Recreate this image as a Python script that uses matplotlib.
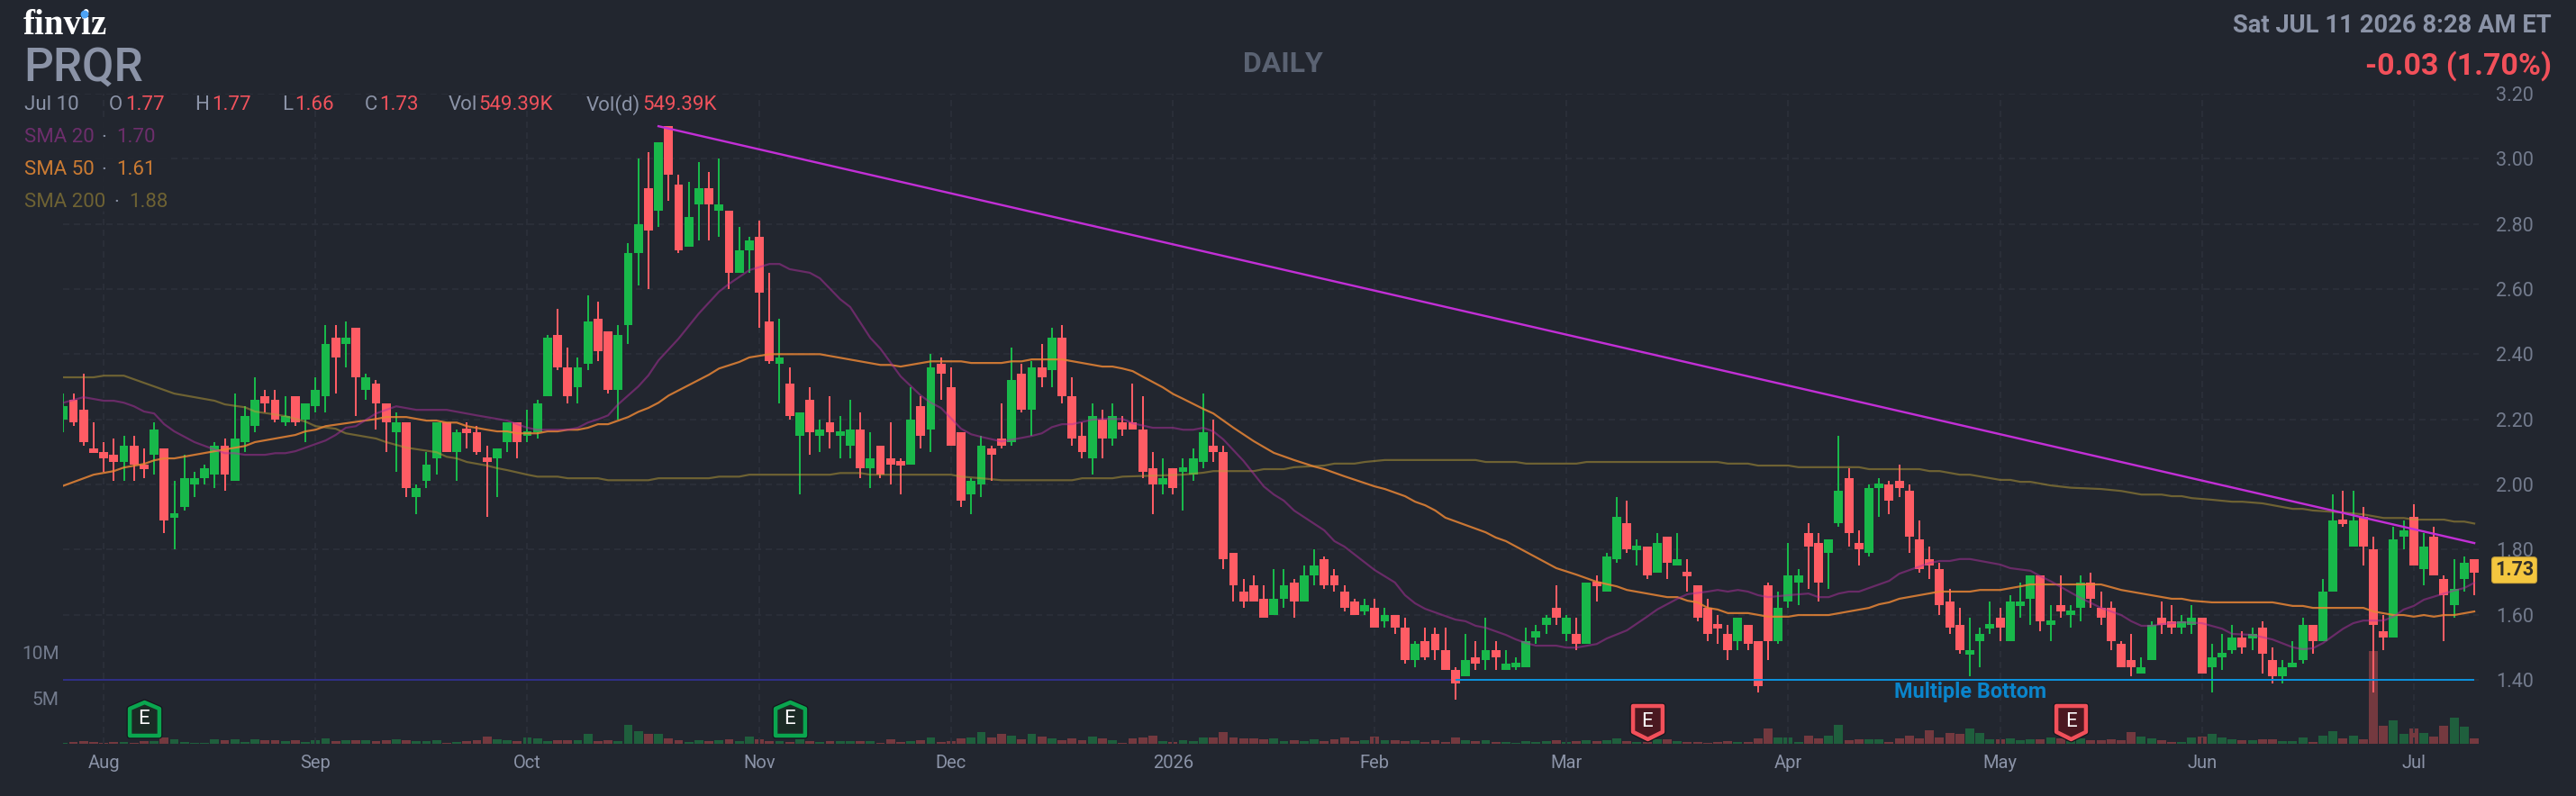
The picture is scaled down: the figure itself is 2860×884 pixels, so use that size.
import matplotlib
matplotlib.use("Agg")
import matplotlib.pyplot as plt
from matplotlib.path import Path
from matplotlib.patches import Ellipse, Rectangle

W, H = 2860, 884
DPI = 100
plt.rcParams["font.family"] = ["Roboto", "DejaVu Sans"]

open_ = [
    2.20, 2.26, 2.23, 2.11, 2.10, 2.09, 2.07, 2.12, 2.06, 2.09,
    2.11, 1.90, 1.93, 2.00, 2.02, 2.03, 2.12, 2.01, 2.13, 2.18,
    2.27, 2.26, 2.19, 2.27, 2.20, 2.24, 2.27, 2.45, 2.43, 2.48,
    2.29, 2.31, 2.25, 2.16, 2.19, 1.96, 2.01, 2.08, 2.19, 2.10,
    2.17, 2.16, 2.08, 2.08, 2.13, 2.19, 2.15, 2.16, 2.27, 2.46,
    2.36, 2.30, 2.37, 2.51, 2.47, 2.29, 2.49, 2.71, 2.91, 2.84,
    3.10, 2.92, 2.73, 2.86, 2.91, 2.84, 2.84, 2.65, 2.72, 2.76,
    2.50, 2.37, 2.31, 2.15, 2.26, 2.15, 2.19, 2.15, 2.12, 2.17,
    2.05, 2.12, 2.08, 2.07, 2.06, 2.24, 2.17, 2.37, 2.30, 2.16,
    1.97, 2.00, 2.11, 2.14, 2.13, 2.34, 2.23, 2.36, 2.35, 2.45,
    2.27, 2.15, 2.08, 2.20, 2.14, 2.19, 2.19, 2.17, 2.05, 2.00,
    2.05, 2.04, 2.03, 2.07, 2.12, 2.10, 1.79, 1.67, 1.69, 1.65,
    1.60, 1.65, 1.70, 1.64, 1.72, 1.77, 1.72, 1.67, 1.64, 1.61,
    1.62, 1.58, 1.60, 1.56, 1.46, 1.52, 1.54, 1.49, 1.43, 1.41,
    1.47, 1.46, 1.49, 1.43, 1.44, 1.44, 1.53, 1.57, 1.62, 1.54,
    1.54, 1.51, 1.70, 1.67, 1.77, 1.88, 1.80, 1.81, 1.73, 1.84,
    1.75, 1.73, 1.69, 1.62, 1.57, 1.54, 1.52, 1.57, 1.52, 1.69,
    1.52, 1.64, 1.70, 1.85, 1.82, 1.79, 1.88, 2.02, 1.82, 1.79,
    1.99, 2.00, 2.01, 1.98, 1.83, 1.77, 1.74, 1.64, 1.57, 1.48,
    1.52, 1.56, 1.59, 1.52, 1.63, 1.65, 1.72, 1.57, 1.63, 1.60,
    1.62, 1.70, 1.62, 1.62, 1.51, 1.46, 1.42, 1.46, 1.59, 1.58,
    1.56, 1.57, 1.59, 1.44, 1.47, 1.49, 1.53, 1.53, 1.56, 1.46,
    1.41, 1.44, 1.46, 1.57, 1.52, 1.67, 1.89, 1.81, 1.90, 1.80,
    1.55, 1.53, 1.84, 1.90, 1.74, 1.84, 1.71, 1.63, 1.71, 1.77,
]
high = [
    2.28, 2.28, 2.34, 2.19, 2.13, 2.14, 2.15, 2.15, 2.11, 2.19,
    2.11, 2.01, 2.09, 2.04, 2.06, 2.13, 2.14, 2.28, 2.24, 2.33,
    2.29, 2.29, 2.27, 2.27, 2.25, 2.33, 2.49, 2.49, 2.50, 2.48,
    2.34, 2.32, 2.25, 2.22, 2.19, 2.00, 2.10, 2.19, 2.19, 2.17,
    2.19, 2.18, 2.12, 2.11, 2.19, 2.19, 2.23, 2.26, 2.46, 2.54,
    2.42, 2.39, 2.58, 2.56, 2.47, 2.49, 2.74, 3.00, 3.02, 3.05,
    3.10, 2.95, 2.93, 2.99, 2.96, 3.00, 2.84, 2.79, 2.76, 2.81,
    2.65, 2.51, 2.36, 2.22, 2.30, 2.20, 2.27, 2.21, 2.26, 2.22,
    2.16, 2.12, 2.19, 2.08, 2.30, 2.27, 2.40, 2.39, 2.36, 2.16,
    2.02, 2.15, 2.12, 2.25, 2.42, 2.37, 2.38, 2.43, 2.48, 2.49,
    2.33, 2.19, 2.25, 2.23, 2.25, 2.21, 2.31, 2.27, 2.10, 2.08,
    2.05, 2.08, 2.11, 2.28, 2.20, 2.12, 1.79, 1.71, 1.72, 1.69,
    1.74, 1.74, 1.71, 1.75, 1.80, 1.78, 1.74, 1.69, 1.65, 1.65,
    1.65, 1.62, 1.60, 1.59, 1.52, 1.56, 1.56, 1.56, 1.44, 1.54,
    1.52, 1.59, 1.52, 1.49, 1.47, 1.56, 1.57, 1.60, 1.69, 1.60,
    1.59, 1.70, 1.72, 1.79, 1.96, 1.95, 1.83, 1.81, 1.85, 1.84,
    1.85, 1.77, 1.69, 1.65, 1.60, 1.57, 1.59, 1.57, 1.52, 1.70,
    1.67, 1.82, 1.74, 1.88, 1.85, 1.83, 2.15, 2.05, 1.86, 2.00,
    2.02, 2.01, 2.06, 2.00, 1.89, 1.81, 1.76, 1.68, 1.62, 1.59,
    1.56, 1.64, 1.62, 1.66, 1.70, 1.72, 1.72, 1.63, 1.72, 1.63,
    1.72, 1.73, 1.67, 1.64, 1.52, 1.54, 1.47, 1.58, 1.64, 1.63,
    1.60, 1.63, 1.59, 1.51, 1.54, 1.57, 1.55, 1.56, 1.58, 1.50,
    1.46, 1.52, 1.59, 1.57, 1.71, 1.97, 1.98, 1.98, 1.93, 1.84,
    1.60, 1.87, 1.89, 1.94, 1.85, 1.87, 1.72, 1.77, 1.78, 1.77,
]
low = [
    2.16, 2.18, 2.12, 2.10, 2.04, 2.01, 2.01, 2.01, 2.02, 2.03,
    1.85, 1.80, 1.92, 1.96, 2.00, 1.99, 1.98, 2.01, 2.10, 2.16,
    2.22, 2.19, 2.18, 2.18, 2.13, 2.22, 2.22, 2.28, 2.36, 2.21,
    2.26, 2.17, 2.10, 2.04, 1.96, 1.91, 1.99, 2.03, 2.10, 2.01,
    2.11, 2.09, 1.90, 1.96, 2.10, 2.08, 2.13, 2.14, 2.27, 2.35,
    2.25, 2.25, 2.35, 2.38, 2.28, 2.20, 2.43, 2.61, 2.60, 2.79,
    2.87, 2.71, 2.73, 2.75, 2.75, 2.76, 2.60, 2.65, 2.65, 2.48,
    2.37, 2.25, 2.20, 1.97, 2.09, 2.10, 2.11, 2.08, 2.08, 2.02,
    1.99, 2.02, 2.00, 1.97, 2.06, 2.11, 2.10, 2.26, 2.12, 1.93,
    1.91, 1.96, 2.01, 2.11, 2.12, 2.22, 2.15, 2.30, 2.30, 2.25,
    2.12, 2.08, 2.03, 2.08, 2.12, 2.15, 2.17, 2.02, 1.91, 1.97,
    1.97, 1.92, 2.01, 2.05, 2.07, 1.74, 1.64, 1.62, 1.64, 1.59,
    1.60, 1.62, 1.59, 1.64, 1.69, 1.68, 1.67, 1.61, 1.60, 1.60,
    1.56, 1.56, 1.54, 1.45, 1.44, 1.46, 1.46, 1.43, 1.34, 1.41,
    1.43, 1.43, 1.43, 1.43, 1.43, 1.44, 1.51, 1.54, 1.57, 1.52,
    1.49, 1.51, 1.64, 1.67, 1.76, 1.79, 1.75, 1.71, 1.73, 1.71,
    1.75, 1.67, 1.58, 1.52, 1.51, 1.46, 1.49, 1.49, 1.36, 1.46,
    1.51, 1.62, 1.63, 1.68, 1.64, 1.68, 1.87, 1.81, 1.75, 1.78,
    1.90, 1.91, 1.96, 1.79, 1.73, 1.71, 1.60, 1.54, 1.48, 1.41,
    1.44, 1.54, 1.52, 1.52, 1.59, 1.57, 1.55, 1.52, 1.59, 1.56,
    1.58, 1.62, 1.57, 1.49, 1.44, 1.41, 1.42, 1.46, 1.54, 1.54,
    1.54, 1.54, 1.42, 1.36, 1.43, 1.48, 1.48, 1.49, 1.42, 1.39,
    1.39, 1.44, 1.45, 1.48, 1.52, 1.67, 1.87, 1.81, 1.75, 1.36,
    1.49, 1.53, 1.80, 1.75, 1.69, 1.72, 1.52, 1.59, 1.67, 1.66,
]
close = [
    2.24, 2.19, 2.13, 2.10, 2.08, 2.07, 2.12, 2.06, 2.05, 2.17,
    1.89, 1.91, 2.02, 2.02, 2.05, 2.12, 2.03, 2.14, 2.21, 2.26,
    2.25, 2.20, 2.21, 2.19, 2.25, 2.29, 2.43, 2.39, 2.45, 2.33,
    2.33, 2.25, 2.19, 2.19, 1.99, 1.99, 2.06, 2.19, 2.10, 2.16,
    2.16, 2.10, 2.07, 2.11, 2.19, 2.13, 2.16, 2.25, 2.45, 2.36,
    2.27, 2.36, 2.50, 2.41, 2.29, 2.46, 2.71, 2.80, 2.78, 3.05,
    2.95, 2.72, 2.82, 2.91, 2.86, 2.86, 2.65, 2.72, 2.75, 2.59,
    2.38, 2.39, 2.21, 2.22, 2.16, 2.17, 2.16, 2.16, 2.17, 2.05,
    2.08, 2.03, 2.06, 2.06, 2.20, 2.15, 2.36, 2.34, 2.12, 1.95,
    2.01, 2.12, 2.09, 2.12, 2.32, 2.23, 2.36, 2.33, 2.45, 2.27,
    2.14, 2.10, 2.21, 2.14, 2.21, 2.17, 2.17, 2.04, 2.00, 2.02,
    1.99, 2.05, 2.08, 2.16, 2.10, 1.77, 1.69, 1.64, 1.64, 1.59,
    1.65, 1.69, 1.64, 1.72, 1.75, 1.69, 1.69, 1.62, 1.60, 1.63,
    1.56, 1.60, 1.56, 1.46, 1.51, 1.47, 1.49, 1.43, 1.39, 1.46,
    1.45, 1.49, 1.47, 1.45, 1.45, 1.52, 1.55, 1.59, 1.59, 1.59,
    1.51, 1.70, 1.69, 1.78, 1.90, 1.80, 1.81, 1.72, 1.82, 1.76,
    1.77, 1.72, 1.59, 1.54, 1.56, 1.49, 1.59, 1.51, 1.38, 1.52,
    1.62, 1.72, 1.72, 1.81, 1.70, 1.83, 1.98, 1.85, 1.80, 1.99,
    2.00, 1.95, 1.99, 1.84, 1.74, 1.75, 1.63, 1.56, 1.49, 1.49,
    1.54, 1.57, 1.56, 1.64, 1.64, 1.72, 1.58, 1.58, 1.61, 1.61,
    1.70, 1.65, 1.59, 1.52, 1.44, 1.44, 1.44, 1.57, 1.57, 1.56,
    1.58, 1.59, 1.42, 1.47, 1.48, 1.53, 1.50, 1.54, 1.48, 1.41,
    1.44, 1.45, 1.57, 1.52, 1.67, 1.89, 1.88, 1.89, 1.81, 1.57,
    1.53, 1.83, 1.86, 1.75, 1.81, 1.72, 1.66, 1.68, 1.76, 1.73,
]
volume_m = [
    0.13, 0.17, 0.26, 0.17, 0.07, 0.17, 0.17, 0.07, 0.26, 0.26,
    0.66, 0.46, 0.17, 0.07, 0.07, 0.46, 0.36, 0.46, 0.17, 0.46,
    0.36, 0.36, 0.26, 0.36, 0.17, 0.36, 0.56, 0.26, 0.36, 0.36,
    0.36, 0.26, 0.36, 0.46, 0.36, 0.26, 0.26, 0.36, 0.07, 0.17,
    0.26, 0.36, 0.76, 0.46, 0.36, 0.26, 0.66, 0.56, 0.26, 0.36,
    0.36, 0.36, 1.06, 0.26, 0.36, 0.26, 2.08, 1.39, 1.09, 1.09,
    0.59, 0.40, 0.20, 0.40, 0.30, 0.40, 0.50, 0.30, 0.79, 0.50,
    0.30, 0.30, 0.20, 0.50, 0.30, 0.20, 0.30, 0.30, 0.30, 0.30,
    0.30, 0.10, 0.50, 0.20, 0.30, 0.40, 0.69, 0.20, 0.30, 0.59,
    0.69, 1.29, 0.69, 1.09, 0.89, 0.50, 1.09, 0.79, 0.59, 0.40,
    0.59, 0.40, 0.79, 0.59, 0.40, 0.10, 0.59, 0.69, 0.89, 0.30,
    0.20, 0.40, 0.30, 0.69, 0.69, 1.29, 0.69, 0.59, 0.59, 0.50,
    0.59, 0.30, 0.40, 0.30, 0.50, 0.30, 0.50, 0.69, 0.30, 0.40,
    0.79, 0.40, 0.40, 0.30, 0.40, 0.20, 0.40, 0.20, 0.69, 0.40,
    0.30, 0.40, 0.20, 0.20, 0.10, 0.26, 0.16, 0.26, 0.36, 0.16,
    0.26, 0.36, 0.26, 0.36, 0.56, 0.26, 0.16, 0.16, 0.46, 0.46,
    0.26, 0.16, 0.16, 0.07, 0.16, 0.26, 0.16, 0.16, 0.56, 1.65,
    0.66, 0.66, 0.16, 0.86, 0.56, 0.86, 2.05, 0.36, 0.46, 0.46,
    0.46, 0.16, 0.56, 0.86, 0.56, 1.45, 0.66, 1.16, 1.06, 1.65,
    1.16, 0.46, 0.46, 0.56, 0.36, 0.46, 0.46, 0.66, 0.56, 0.26,
    0.56, 0.36, 0.36, 0.46, 0.36, 1.25, 0.76, 0.56, 0.36, 0.17,
    0.17, 0.66, 0.76, 1.06, 0.66, 0.46, 0.36, 0.36, 0.46, 0.46,
    0.26, 0.26, 0.66, 0.17, 0.86, 1.35, 0.56, 0.86, 0.46, 10.16,
    1.95, 2.54, 1.06, 1.65, 1.16, 0.76, 1.95, 2.84, 1.85, 0.54939,
]

sma20_idx = [
    0, 2, 4, 5, 6, 7, 8, 9, 10, 11, 13, 15, 16, 17, 18, 20, 21, 22, 23, 25, 26, 27, 28, 29, 31,
    33, 35, 38, 41, 44, 46, 47, 50, 51, 52, 53, 54, 55, 57, 58, 59, 61, 63, 65, 66, 68, 70, 71,
    72, 74, 75, 77, 78, 80, 81, 83, 85, 86, 87, 89, 90, 91, 93, 95, 96, 97, 98, 99, 100, 102, 103,
    105, 106, 108, 110, 111, 112, 113, 114, 115, 117, 119, 120, 121, 122, 125, 126, 127, 130, 132,
    133, 134, 135, 138, 139, 140, 141, 143, 144, 145, 146, 148, 149, 150, 152, 153, 155, 157, 158,
    160, 161, 163, 164, 165, 166, 167, 168, 169, 171, 173, 174, 175, 176, 177, 178, 180, 181, 182,
    184, 185, 186, 187, 188, 189, 192, 193, 195, 196, 197, 199, 200, 202, 204, 205, 206, 207, 208,
    210, 212, 214, 215, 217, 219, 221, 222, 223, 224, 225, 226, 227, 228, 230, 231, 232, 233, 234,
    236, 237, 238, 239,
]
sma20_val = [
    2.251, 2.268, 2.257, 2.257, 2.251, 2.24, 2.224, 2.218, 2.185, 2.163, 2.13, 2.107, 2.096, 2.096,
    2.091, 2.091, 2.096, 2.096, 2.102, 2.124, 2.135, 2.152, 2.174, 2.179, 2.218, 2.24, 2.229, 2.229,
    2.212, 2.196, 2.174, 2.168, 2.168, 2.174, 2.19, 2.2, 2.212, 2.246, 2.301, 2.335, 2.381, 2.448,
    2.525, 2.592, 2.616, 2.658, 2.677, 2.677, 2.661, 2.65, 2.633, 2.569, 2.545, 2.45, 2.417, 2.332,
    2.273, 2.251, 2.235, 2.171, 2.154, 2.146, 2.132, 2.143, 2.149, 2.157, 2.176, 2.185, 2.185, 2.199,
    2.201, 2.201, 2.188, 2.174, 2.174, 2.168, 2.168, 2.174, 2.163, 2.138, 2.072, 1.994, 1.969, 1.95,
    1.92, 1.859, 1.826, 1.809, 1.737, 1.699, 1.66, 1.635, 1.618, 1.585, 1.58, 1.566, 1.56, 1.538,
    1.524, 1.513, 1.505, 1.505, 1.499, 1.499, 1.51, 1.527, 1.552, 1.594, 1.616, 1.649, 1.663, 1.671,
    1.676, 1.671, 1.676, 1.671, 1.66, 1.654, 1.66, 1.665, 1.654, 1.654, 1.665, 1.671, 1.671, 1.693,
    1.704, 1.726, 1.748, 1.759, 1.765, 1.765, 1.771, 1.771, 1.754, 1.743, 1.735, 1.718, 1.703, 1.668,
    1.651, 1.621, 1.599, 1.58, 1.566, 1.566, 1.571, 1.577, 1.574, 1.557, 1.541, 1.538, 1.524, 1.5,
    1.494, 1.497, 1.513, 1.535, 1.557, 1.574, 1.582, 1.582, 1.594, 1.616, 1.627, 1.646, 1.665, 1.674,
    1.682, 1.698,
]
sma50_idx = [
    0, 3, 5, 6, 8, 9, 10, 11, 15, 18, 19, 23, 24, 25, 26, 31, 32, 34, 36, 37, 38, 39, 40, 42, 43, 44,
    45, 47, 48, 49, 50, 51, 52, 53, 54, 56, 57, 58, 59, 60, 64, 65, 67, 68, 70, 75, 81, 82, 83, 86,
    89, 90, 93, 94, 95, 96, 99, 103, 104, 105, 106, 107, 109, 110, 111, 113, 114, 116, 118, 120, 122,
    124, 125, 127, 130, 131, 133, 134, 135, 136, 137, 141, 142, 143, 148, 150, 152, 154, 155, 159,
    160, 161, 162, 163, 164, 165, 167, 169, 171, 172, 175, 179, 180, 181, 182, 186, 189, 190, 192,
    194, 195, 202, 204, 209, 210, 211, 213, 219, 221, 222, 223, 228, 229, 231, 232, 233, 234, 235,
    236, 237, 239,
]
sma50_val = [
    1.996, 2.03, 2.041, 2.052, 2.063, 2.074, 2.08, 2.08, 2.102, 2.118, 2.13, 2.152, 2.163, 2.168,
    2.179, 2.201, 2.207, 2.207, 2.196, 2.196, 2.19, 2.19, 2.179, 2.168, 2.163, 2.163, 2.157, 2.157,
    2.163, 2.163, 2.168, 2.168, 2.174, 2.185, 2.185, 2.207, 2.223, 2.235, 2.251, 2.273, 2.337, 2.356,
    2.376, 2.39, 2.40, 2.40, 2.367, 2.367, 2.362, 2.378, 2.378, 2.373, 2.373, 2.378, 2.378, 2.384,
    2.384, 2.362, 2.362, 2.356, 2.348, 2.331, 2.298, 2.278, 2.263, 2.232, 2.218, 2.174, 2.133, 2.097,
    2.075, 2.055, 2.047, 2.025, 1.994, 1.986, 1.964, 1.947, 1.936, 1.92, 1.898, 1.853, 1.837, 1.826,
    1.743, 1.723, 1.701, 1.687, 1.676, 1.654, 1.654, 1.643, 1.638, 1.621, 1.616, 1.605, 1.605, 1.594,
    1.594, 1.599, 1.599, 1.621, 1.632, 1.638, 1.649, 1.671, 1.671, 1.676, 1.676, 1.687, 1.693, 1.693,
    1.676, 1.649, 1.649, 1.643, 1.638, 1.638, 1.627, 1.627, 1.621, 1.621, 1.61, 1.599, 1.599, 1.594,
    1.599, 1.594, 1.599, 1.599, 1.61,
]
sma200_idx = [
    0, 3, 4, 6, 8, 11, 15, 16, 18, 19, 22, 24, 25, 27, 28, 31, 32, 34, 37, 38, 39, 40, 42, 43, 44,
    46, 47, 49, 50, 53, 54, 58, 59, 64, 65, 67, 68, 76, 77, 79, 80, 88, 89, 91, 93, 100, 101, 104,
    105, 111, 113, 114, 118, 119, 121, 122, 125, 126, 128, 129, 131, 140, 141, 144, 145, 150, 151,
    164, 165, 167, 168, 171, 172, 178, 179, 184, 185, 186, 188, 189, 192, 193, 194, 195, 197, 199,
    202, 204, 206, 208, 209, 210, 211, 213, 215, 216, 218, 221, 222, 223, 226, 228, 230, 232, 233,
    236, 237, 238, 239,
]
sma200_val = [
    2.329, 2.329, 2.334, 2.334, 2.312, 2.279, 2.257, 2.246, 2.237, 2.224, 2.21, 2.193, 2.179, 2.171,
    2.157, 2.141, 2.13, 2.113, 2.099, 2.085, 2.08, 2.069, 2.058, 2.05, 2.044, 2.03, 2.024, 2.024, 2.019,
    2.019, 2.013, 2.013, 2.019, 2.019, 2.024, 2.024, 2.03, 2.03, 2.035, 2.035, 2.03, 2.03, 2.024, 2.019,
    2.013, 2.013, 2.019, 2.019, 2.024, 2.03, 2.036, 2.041, 2.041, 2.047, 2.047, 2.053, 2.058, 2.064,
    2.064, 2.069, 2.075, 2.075, 2.069, 2.069, 2.064, 2.064, 2.069, 2.069, 2.064, 2.064, 2.058, 2.058,
    2.053, 2.053, 2.047, 2.047, 2.041, 2.041, 2.03, 2.03, 2.014, 2.014, 2.008, 2.008, 1.997, 1.99,
    1.986, 1.98, 1.969, 1.969, 1.964, 1.964, 1.958, 1.953, 1.947, 1.947, 1.942, 1.925, 1.925, 1.92,
    1.914, 1.908, 1.897, 1.897, 1.892, 1.892, 1.886, 1.886, 1.88,
]

month_idx = [4, 25, 46, 69, 88, 110, 130, 149, 171, 192, 212, 233]
month_labels = ["Aug", "Sep", "Oct", "Nov", "Dec", "2026", "Feb", "Mar", "Apr", "May", "Jun", "Jul"]
price_ticks = [1.40, 1.60, 1.80, 2.00, 2.20, 2.40, 2.60, 2.80, 3.00, 3.20]
volume_ticks = [5, 10]
volume_tick_labels = ["5M", "10M"]
trend_idx = [59, 239]
trend_val = [3.10, 1.82]
support_price = 1.40
support_split = 138
earnings_up = [8, 72]
earnings_down = [157, 199]

BG = "#22262F"
UP = "#18B84A"
DOWN = "#FF5C64"
UP_VOL = "#1F5F3D"
DOWN_VOL = "#74393F"
GRID = "#2A2E38"
LABEL = "#8B93A7"
AXIS_TEXT = "#737B8D"
VALUE_RED = "#F0525C"
C20 = "#B030A0"
C50 = "#E88535"
C200 = "#BA9E37"

LEFT, RIGHT, TOP, BOTTOM = 70, 2752, 104, 826
PX_PER_PRICE = 361.7
PX_PER_MILLION = 10.1
MIN_BODY = 5 / PX_PER_PRICE


def px(value):
    """Convert a length in output pixels to points."""
    return value * 72 / DPI


def put(x, y, text, size, color, ha="left", weight="normal", va="center", family=None):
    kwargs = {"family": family} if family else {}
    return fig.text(x / W, 1 - y / H, text, fontsize=size, color=color, ha=ha, va=va,
                    fontweight=weight, **kwargs)


fig = plt.figure(figsize=(W / DPI, H / DPI), dpi=DPI, facecolor=BG)
rect = [LEFT / W, 1 - BOTTOM / H, (RIGHT - LEFT) / W, (BOTTOM - TOP) / H]

# Volume panel shares the candle area and sits underneath it.
ax_vol = fig.add_axes(rect, facecolor=BG)
ax = fig.add_axes(rect, facecolor="none")

n = len(close)
idx = list(range(n))
xlim = (-0.027, 239.44)

is_up = [c >= o for o, c in zip(open_, close)]
ax_vol.bar(idx, volume_m, width=0.89, color=[UP_VOL if u else DOWN_VOL for u in is_up], linewidth=0)
ax_vol.set_xlim(*xlim)
ax_vol.set_ylim(0, (BOTTOM - TOP) / PX_PER_MILLION)
ax_vol.set_yticks(volume_ticks, volume_tick_labels)
ax_vol.set_xticks([])
ax_vol.tick_params(axis="y", length=0, pad=px(4.5), labelsize=15, labelcolor=AXIS_TEXT)

# Earnings shields: pentagons pointing up for beats and down for misses.
shield_up = Path([(-0.444, -0.5), (-0.444, 0.31), (0, 0.5), (0.444, 0.31), (0.444, -0.5), (-0.444, -0.5)], closed=True)
shield_down = Path([(-0.444, 0.5), (-0.444, -0.28), (0, -0.5), (0.444, -0.28), (0.444, 0.5), (-0.444, 0.5)], closed=True)
for positions, shape, edge, fill, level in [
    (earnings_up, shield_up, "#0AA64F", "#1B2B25", 2.75),
    (earnings_down, shield_down, "#F2505A", "#4A1820", 2.4),
]:
    ax_vol.plot(positions, [level] * len(positions), ls="none", marker=shape, ms=px(37),
                mfc=fill, mec="#14161C", mew=px(7), zorder=4, clip_on=False)
    ax_vol.plot(positions, [level] * len(positions), ls="none", marker=shape, ms=px(37),
                mfc=fill, mec=edge, mew=px(4.5), zorder=5, clip_on=False)
    for p in positions:
        ax_vol.text(p, level, "E", color="white", fontsize=16, ha="center", va="center", zorder=6)

# Price panel
ax.set_xlim(*xlim)
ax.set_ylim(1.4 - (BOTTOM - 755) / PX_PER_PRICE, 3.2)
ax.set_yticks(price_ticks, [f"{p:.2f}" for p in price_ticks])
ax.set_xticks(month_idx, month_labels)
ax.yaxis.tick_right()
ax.tick_params(axis="y", length=0, pad=px(19), labelsize=15.5, labelcolor=AXIS_TEXT)
ax.tick_params(axis="x", length=0, pad=px(12), labelsize=14.5, labelcolor=LABEL)
ax.grid(True, color=GRID, lw=px(2), ls=(0, (3.5, 2.5)), zorder=0)
ax.set_axisbelow(True)
for axis in (ax, ax_vol):
    for spine in axis.spines.values():
        spine.set_visible(False)

ax.plot([0, support_split], [support_price] * 2, color="#2F2F85", lw=px(2), zorder=1.5, solid_capstyle="butt")

colors = [UP if u else DOWN for u in is_up]
ax.vlines(idx, low, high, colors=colors, lw=px(2), zorder=2)
bottoms, heights = [], []
for o, c in zip(open_, close):
    h = max(abs(c - o), MIN_BODY)
    bottoms.append((o + c) / 2 - h / 2)
    heights.append(h)
ax.bar(idx, heights, bottom=bottoms, width=0.89, color=colors, linewidth=0, zorder=2.1)

ax.plot(sma200_idx, sma200_val, color=C200, alpha=0.5, lw=px(2.2), zorder=3)
ax.plot(sma50_idx, sma50_val, color=C50, alpha=0.85, lw=px(2.2), zorder=3)
ax.plot(sma20_idx, sma20_val, color=C20, alpha=0.5, lw=px(2.2), zorder=3)
ax.plot(trend_idx, trend_val, color="#C22FD6", lw=px(2.4), zorder=3.2)
ax.plot([support_split, n - 1], [support_price] * 2, color="#0C90DC", lw=px(2), zorder=3.2, solid_capstyle="butt")
ax.text(189, support_price - 13 / PX_PER_PRICE - 0.001, "Multiple Bottom", color="#0A85CC", fontsize=16.8,
        fontweight="bold", ha="center", va="center", zorder=4)

# Current-price tag on the axis
ax.annotate(f"{close[-1]:.2f}", xy=(1, close[-1]), xycoords=("axes fraction", "data"),
            xytext=(px(39.5), px(2.5)), textcoords="offset points", ha="center", va="center",
            fontsize=15.5, fontweight="bold", color="#33302A", annotation_clip=False,
            bbox=dict(boxstyle="round,pad=0.16", fc="#F4C63F", ec="#C9A238", lw=0.8), zorder=8)

# Dim the grid behind the moving-average legend.
fig.add_artist(Rectangle((LEFT / W, 1 - 235 / H), 120 / W, 100 / H, transform=fig.transFigure,
                         facecolor=BG, alpha=0.85, edgecolor="none", zorder=1))

# Header
put(26, 28, "finviz", 28, "white", weight="bold", family="Liberation Serif")
fig.add_artist(Ellipse((94 / W, 1 - 16 / H), 7.5 / W, 7.5 / H, transform=fig.transFigure, color="#4DA3F5", zorder=9))
put(26, 76, "PRQR", 37, LABEL, weight="medium")
put(27, 117, "Jul 10", 16, LABEL)
for x_label, label, x_val, val in [
    (120.5, "O", 139, "1.77"), (216.5, "H", 235, "1.77"), (313, "L", 327, "1.66"),
    (405, "C", 421, "1.73"), (498, "Vol", 531, "549.39K"), (651, "Vol(d)", 713, "549.39K"),
]:
    put(x_label, 117, label, 16, LABEL)
    put(x_val, 117, val, 16, VALUE_RED)
for y, name, dot_x, val_x, val, color in [
    (153, "SMA 20", 115.5, 129, "1.70", "#6D2E6C"),
    (189, "SMA 50", 115.5, 129, "1.61", "#CB7B33"),
    (225, "SMA 200", 129, 143, "1.88", "#6E6233"),
]:
    put(27, y, name, 16, color)
    put(dot_x, y, "·", 16, "#8B93A7", ha="center")
    put(val_x, y, val, 16, color)
put(1424, 71, "DAILY", 23, "#5A6272", ha="center", weight="bold")
put(2833, 29, "Sat JUL 11 2026 8:28 AM ET", 19.7, LABEL, ha="right", weight="bold")
put(2833, 73, "-0.03 (1.70%)", 24.4, "#F2505A", ha="right", weight="bold")

fig.savefig("out.png", dpi=DPI, facecolor=BG)
